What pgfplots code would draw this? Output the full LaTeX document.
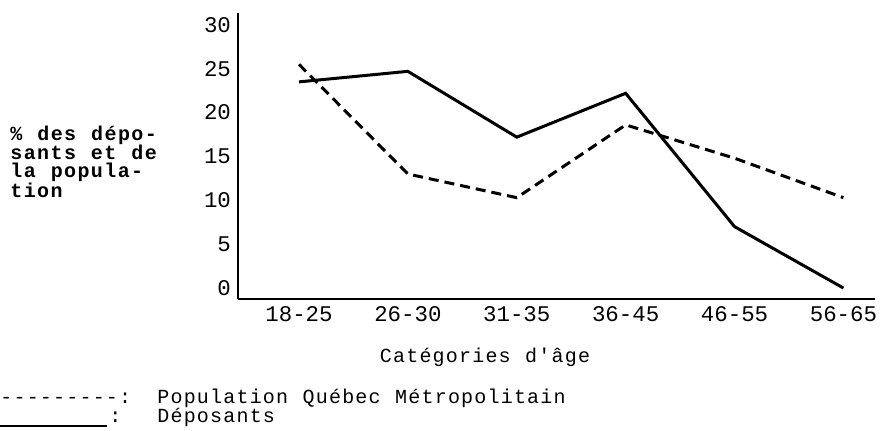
\documentclass[border=0pt]{standalone}
\usepackage{fontspec}
\setmainfont{Liberation Mono}[Ligatures=TeXOff]
\newfontfamily\twl{Liberation Mono}[Ligatures=TeXOff, LetterSpace=6, WordSpace=1.1]
\newfontfamily\twy{Liberation Mono}[Ligatures=TeXOff, LetterSpace=7, WordSpace=1.12]
\usepackage{pgfplots}
\pgfplotsset{compat=1.18}
\newcommand{\tw}{\fontsize{11.2}{9.5}\selectfont}
\begin{document}
\begin{tikzpicture}
\useasboundingbox (0,0) rectangle (440pt,-215pt);
\begin{axis}[
  at={(119pt,-149.5pt)}, anchor=south west,
  scale only axis, width=318.5pt, height=143pt,
  xmin=-0.56, xmax=5.29, ymin=-1.25, ymax=31.35,
  axis x line=bottom, axis y line=left,
  axis line style={-, line width=1.2pt, black},
  xtick={0,...,5},
  xticklabels={18-25,26-30,31-35,36-45,46-55,56-65},
  ytick={0,5,...,30},
  major tick length=0pt,
  tick label style={font=\tw},
  /pgf/number format/assume math mode=true,
  clip=false,
]
\addplot[black, line width=1.5pt] coordinates {(0,23.5)(1,24.7)(2,17.2)(3,22.2)(4,7.0)(5,0)};
\addplot[black, line width=1.5pt, dash pattern=on 5pt off 3pt] coordinates {(0,25.5)(1,13.0)(2,10.3)(3,18.6)(4,14.8)(5,10.3)};
\end{axis}
\begin{scope}[every node/.style={anchor=base west, inner sep=0pt, font=\twy\fontsize{10}{9.5}\selectfont\bfseries}]
\node at (5pt,-70pt) {\% des dépo-};
\node at (5pt,-79.5pt) {sants et de};
\node at (5pt,-88.5pt) {la popula-};
\node at (5pt,-98.5pt) {tion};
\end{scope}
\node[anchor=base, inner sep=0pt, font=\twl\fontsize{10}{9.5}\selectfont] at (242.5pt,-181pt) {Catégories d'âge};
\node[anchor=base west, inner sep=0pt, font=\twl\fontsize{10}{9.5}\selectfont] at (0pt,-201.5pt) {\makebox[78.5pt][l]{---------:}Population Québec Métropolitain};
\node[anchor=base west, inner sep=0pt, font=\twl\fontsize{10}{9.5}\selectfont] at (0pt,-211pt) {\makebox[78.5pt][l]{\makebox[54.5pt][l]{\rule[-2.4pt]{53.5pt}{0.9pt}}:}Déposants};
\end{tikzpicture}
\end{document}
